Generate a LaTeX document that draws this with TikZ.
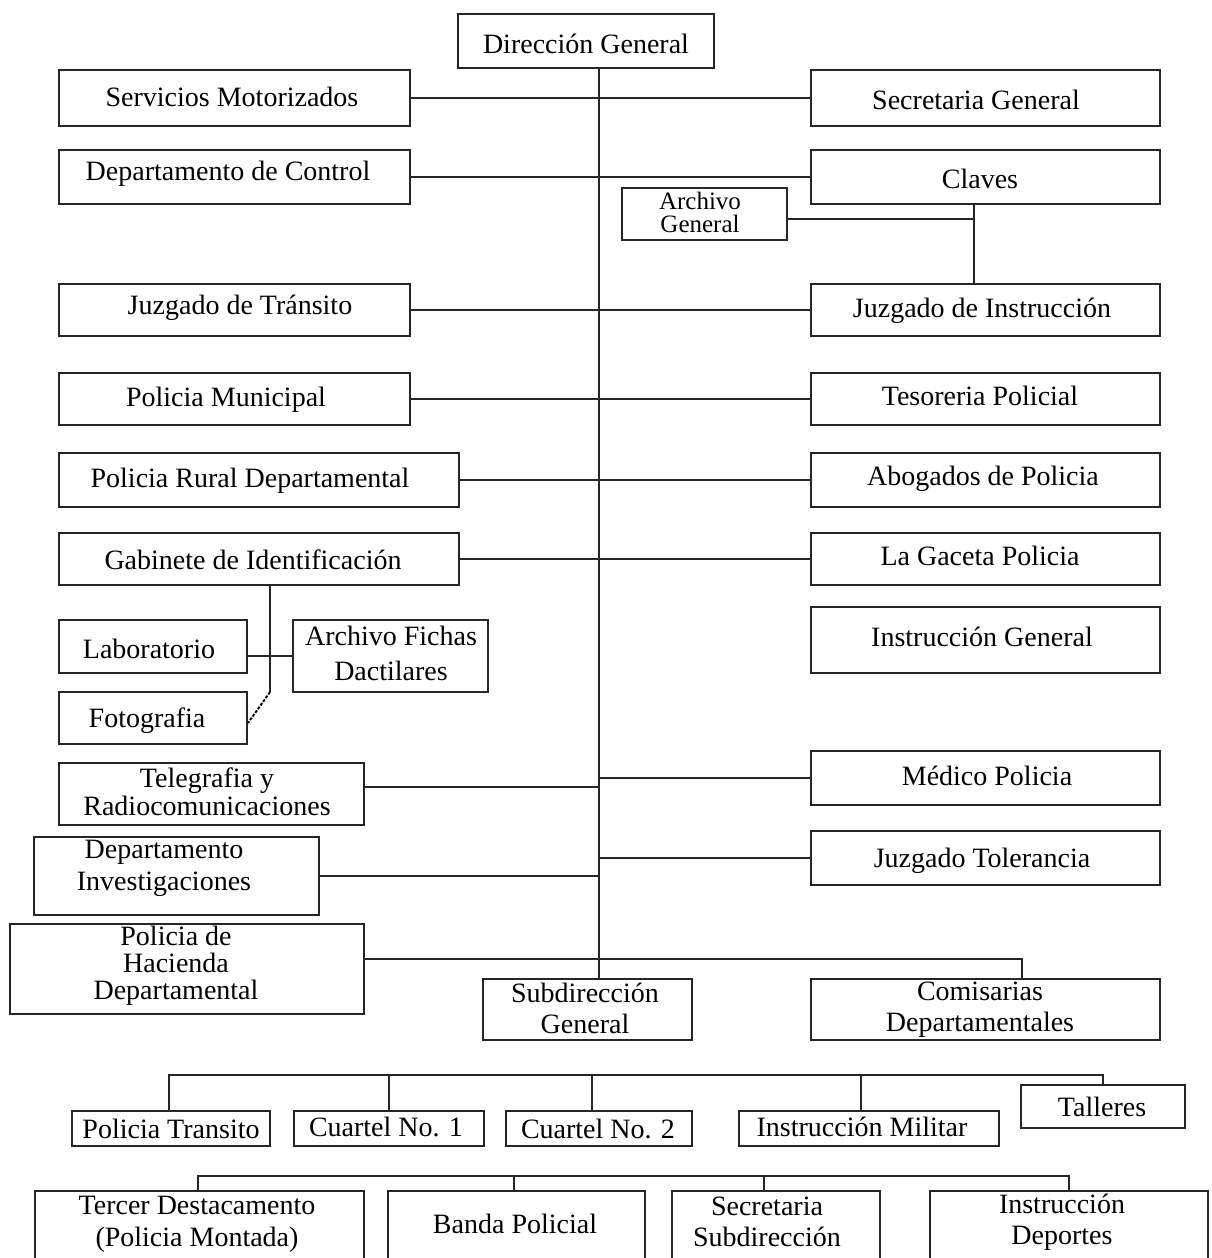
\documentclass[tikz,border=0pt]{standalone}
\usepackage{fontspec}
\setmainfont{Liberation Serif}
\newcommand\bx[5]{\node[box, minimum width={(#4-#2)*1pt}, minimum height={(#5-#3)*1pt}] (#1) at ({(#2+#4)/2},{(#3+#5)/2}) {};}
\begin{document}
\begin{tikzpicture}[x=1pt,y=-1pt,
 box/.style={draw=black!85, line width=1.7pt, inner sep=0pt, outer sep=0pt},
 txt/.style={inner sep=0pt, align=center, font=\fontsize{28}{31}\selectfont, text=black},
 ln/.style={draw=black!85, line width=1.7pt},
 dotted link/.style={draw=black, line width=1.9pt, dash pattern=on 3pt off 1.5pt}]
\useasboundingbox (0,0) rectangle (1211,1258);
\clip (0,0) rectangle (1211,1258);
\fill[white] (0,0) rectangle (1211,1258);

% boxes
\bx{dg}{458}{14}{714}{68}
\bx{sm}{59}{70}{410}{126}
\bx{sg}{811}{70}{1160}{126}
\bx{dc}{59}{150}{410}{204}
\bx{cl}{811}{150}{1160}{204}
\bx{ag}{622}{188}{787}{240}
\bx{jt}{59}{284}{410}{336}
\bx{ji}{811}{284}{1160}{336}
\bx{pm}{59}{373}{410}{425}
\bx{tp}{811}{373}{1160}{425}
\bx{pr}{59}{453}{459}{507}
\bx{ap}{811}{453}{1160}{507}
\bx{gi}{59}{533}{459}{585}
\bx{lg}{811}{533}{1160}{585}
\bx{ig}{811}{607}{1160}{673}
\bx{lab}{59}{620}{247}{673}
\bx{afd}{293}{620}{488}{692}
\bx{foto}{59}{692}{247}{744}
\bx{tel}{59}{763}{364}{825}
\bx{mp}{811}{751}{1160}{805}
\bx{inv}{34}{837}{319}{915}
\bx{jtol}{811}{831}{1160}{885}
\bx{ph}{10}{924}{364}{1014}
\bx{sub}{483}{979}{692}{1040}
\bx{com}{811}{979}{1160}{1040}
\bx{ptr}{72}{1111}{270}{1146}
\bx{ca}{294}{1111}{484}{1146}
\bx{cb}{506}{1111}{692}{1146}
\bx{im}{739}{1111}{999}{1146}
\bx{tal}{1021}{1085}{1185}{1128}
\bx{td}{35}{1191}{364}{1275}
\bx{bp}{388}{1191}{645}{1275}
\bx{ss}{672}{1191}{880}{1275}
\bx{id}{930}{1191}{1208}{1275}

% texts
\node[txt] (dg-t) at (586,44) {Dirección General};
\node[txt] (sm-t) at (232,97) {Servicios Motorizados};
\node[txt] (sg-t) at (976,100) {Secretaria General};
\node[txt] (dc-t) at (228,174) {Departamento de Control};
\node[txt] (cl-t) at (980,179) {Claves};
\node[txt, font=\fontsize{25}{23}\selectfont] (ag-t) at (700,212) {Archivo\\General};
\node[txt] (jt-t) at (240,308) {Juzgado de Tránsito};
\node[txt] (ji-t) at (982,311) {Juzgado de Instrucción};
\node[txt] (pm-t) at (226,400) {Policia Municipal};
\node[txt] (tp-t) at (980,396) {Tesoreria Policial};
\node[txt] (pr-t) at (250,481) {Policia Rural Departamental};
\node[txt] (ap-t) at (983,479) {Abogados de Policia};
\node[txt] (gi-t) at (253,560) {Gabinete de Identificación};
\node[txt] (lg-t) at (980,556) {La Gaceta Policia};
\node[txt] (ig-t) at (982,637) {Instrucción General};
\node[txt] (lab-t) at (149,649) {Laboratorio};
\node[txt, font=\fontsize{28}{35}\selectfont] (afd-t) at (391,653) {Archivo Fichas\\Dactilares};
\node[txt] (foto-t) at (147,721) {Fotografia};
\node[txt, font=\fontsize{28}{28}\selectfont] (tel-t) at (207,792) {Telegrafia y\\Radiocomunicaciones};
\node[txt] (mp-t) at (987,776) {Médico Policia};
\node[txt, font=\fontsize{28}{32}\selectfont] (inv-t) at (164,868) {Departamento\\Investigaciones};
\node[txt] (jtol-t) at (982,861) {Juzgado Tolerancia};
\node[txt, font=\fontsize{28}{27}\selectfont] (ph-t) at (176,966) {Policia de\\Hacienda\\Departamental};
\node[txt] (sub-t) at (585,1008) {Subdirección\\General};
\node[txt] (com-t) at (980,1010) {Comisarias\\Departamentales};
\node[txt] (ptr-t) at (171,1129) {Policia Transito};
\node[txt] (ca-t) at (386,1127) {Cuartel No. 1};
\node[txt] (cb-t) at (598,1129) {Cuartel No. 2};
\node[txt] (im-t) at (862,1127) {Instrucción Militar};
\node[txt] (tal-t) at (1102,1107) {Talleres};
\node[txt, font=\fontsize{28}{32}\selectfont] (td-t) at (197,1224) {Tercer Destacamento\\(Policia Montada)};
\node[txt] (bp-t) at (515,1224) {Banda Policial};
\node[txt] (ss-t) at (767,1222) {Secretaria\\Subdirección};
\node[txt] (id-t) at (1062,1222) {Instrucción\\Deportes};

% trunk
\coordinate (tx) at (599,0);
\draw[ln] (dg.south -| tx) -- (sub.north -| tx);
% side branches
\draw[ln] (sm.east) -- (sg.west);
\draw[ln] (dc.east) -- (cl.west);
\draw[ln] (jt.east) -- (ji.west);
\draw[ln] (pm.east) -- (tp.west);
\draw[ln] (pr.east) -- (ap.west);
\draw[ln] (gi.east) -- (lg.west);
% claves group
\coordinate (cx) at (974,0);
\draw[ln] (cl.south -| cx) -- (ji.north -| cx);
\draw[ln] ([yshift=-5pt]ag.east) -- ([yshift=-5pt]ag.east -| cx);
% gabinete group
\coordinate (gx) at (270,0);
\coordinate (gk) at (270,692);
\draw[ln] (gi.south -| gx) -- (gk);
\draw[dotted link] (gk) -- ([xshift=1pt,yshift=-5pt]foto.east);
\draw[ln] (afd.west) -- (afd.west -| lab.east);
% lower side branches
\draw[ln] ([yshift=7pt]tel.east) -- ([yshift=7pt]tel.east -| tx);
\draw[ln] (inv.east) -- (inv.east -| tx);
\draw[ln] (mp.west) -- (mp.west -| tx);
\draw[ln] (jtol.west) -- (jtol.west -| tx);
\coordinate (hx) at (1022,0);
\draw[ln] ([yshift=10pt]ph.east) -- ([yshift=10pt]ph.east -| hx) -- (com.north -| hx);
% upper bus
\coordinate (ub) at (0,1075);
\draw[ln] ([xshift=-2pt]ptr.north) -- ([xshift=-2pt]ptr.north |- ub) -- (tal.north |- ub) -- (tal.north);
\draw[ln] (ca.north) -- (ca.north |- ub);
\draw[ln] ([xshift=-7pt]cb.north) -- ([xshift=-7pt]cb.north |- ub);
\draw[ln] ([xshift=-8pt]im.north) -- ([xshift=-8pt]im.north |- ub);
% lower bus
\coordinate (lb) at (0,1176);
\draw[ln] ([xshift=-1.5pt]td.north) -- ([xshift=-1.5pt]td.north |- lb) -- (id.north |- lb) -- (id.north);
\draw[ln] ([xshift=-2.5pt]bp.north) -- ([xshift=-2.5pt]bp.north |- lb);
\draw[ln] ([xshift=-12pt]ss.north) -- ([xshift=-12pt]ss.north |- lb);
\end{tikzpicture}
\end{document}
